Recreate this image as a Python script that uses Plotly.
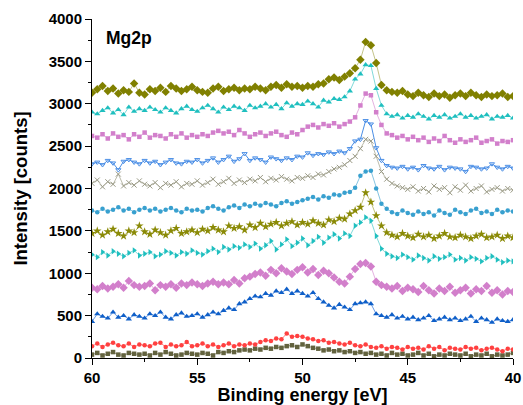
import numpy as np
import plotly.graph_objects as go

# Binding energy grid (eV), 60 -> 40 in 0.25 eV steps
energy = np.round(np.arange(60, 39.99, -0.25), 2)

s01_dark_sq = [40, 60, 30, 50, 70, 40, 30, 60, 50, 40,
               50, 30, 60, 40, 70, 50, 30, 40, 60, 50,
               40, 60, 50, 30, 70, 60, 80, 70, 90, 100,
               90, 110, 100, 120, 110, 130, 120, 140, 150, 130,
               160, 140, 120, 110, 90, 100, 80, 90, 70, 80,
               60, 70, 50, 60, 40, 50, 30, 60, 40, 50,
               30, 40, 60, 30, 50, 20, 40, 30, 50, 40,
               30, 50, 20, 40, 30, 50, 20, 40, 30, 40,
               60]
s02_red = [140, 170, 130, 160, 180, 150, 140, 170, 130, 160,
           150, 140, 170, 180, 130, 160, 140, 150, 190, 140,
           150, 170, 140, 160, 130, 150, 170, 140, 160, 150,
           170, 160, 190, 210, 200, 230, 220, 290, 250, 260,
           250, 230, 220, 200, 210, 180, 190, 170, 160, 180,
           150, 140, 160, 130, 120, 140, 110, 130, 120, 100,
           130, 110, 120, 100, 140, 110, 130, 90, 120, 110,
           100, 130, 110, 120, 90, 110, 120, 100, 80, 110,
           100]
s03_blue_tri = [430, 520, 490, 470, 540, 480, 500, 460, 510, 490,
                470, 520, 500, 540, 480, 460, 510, 530, 490, 500,
                520, 480, 510, 540, 520, 560, 590, 570, 640, 660,
                700, 730, 720, 760, 740, 790, 770, 810, 760, 790,
                760, 730, 770, 700, 660, 620, 590, 630, 600, 570,
                640, 650, 660, 640, 520, 500, 480, 510, 470, 490,
                460, 480, 450, 470, 500, 440, 460, 480, 450, 470,
                440, 460, 490, 430, 470, 450, 420, 460, 440, 430,
                450]
s04_orchid_dia = [830, 810, 850, 820, 840, 870, 830, 910, 860, 840,
                  850, 880, 800, 860, 840, 870, 830, 880, 860, 890,
                  870, 850, 880, 900, 870, 890, 870, 920, 880, 940,
                  960, 990, 1010, 970, 1040, 1000, 1060, 1020, 990, 1040,
                  1070, 1010, 1050, 980, 1030, 1000, 950, 900, 880, 960,
                  1050, 1110, 1120, 1080, 900, 860, 840, 820, 850, 790,
                  830, 810, 780, 850, 800, 760, 820, 790, 840, 770,
                  800, 830, 760, 810, 790, 850, 770, 800, 750, 790,
                  780]
s05_cyan_tri_r = [1220, 1190, 1250, 1210, 1260, 1230, 1200, 1240, 1270, 1210,
                  1230, 1250, 1200, 1220, 1260, 1240, 1210, 1250, 1230, 1270,
                  1240, 1220, 1260, 1290, 1250, 1310, 1280, 1320, 1300, 1340,
                  1310, 1350, 1290, 1330, 1380, 1280, 1340, 1400, 1320, 1360,
                  1410, 1330, 1380, 1430, 1360, 1420, 1460, 1410, 1470, 1440,
                  1560, 1600, 1660, 1620, 1440, 1290, 1230, 1200, 1180, 1220,
                  1190, 1160, 1210, 1180, 1150, 1200, 1170, 1190, 1220, 1160,
                  1180, 1150, 1190, 1170, 1140, 1180, 1200, 1160, 1130, 1150,
                  1140]
s06_olive_star = [1470, 1500, 1450, 1490, 1520, 1470, 1440, 1500, 1480, 1560,
                  1490, 1460, 1510, 1480, 1450, 1500, 1530, 1470, 1490, 1510,
                  1480, 1520, 1500, 1540, 1510, 1490, 1560, 1530, 1550, 1510,
                  1570, 1540, 1590, 1550, 1580, 1600, 1560, 1590, 1610, 1570,
                  1600, 1580, 1620, 1590, 1570, 1630, 1610, 1650, 1640, 1700,
                  1740, 1780, 1950, 1840, 1680, 1560, 1480, 1450, 1430, 1470,
                  1440, 1420, 1460, 1430, 1450, 1410, 1440, 1470, 1430, 1420,
                  1450, 1430, 1410, 1440, 1460, 1420, 1430, 1450, 1410, 1440,
                  1420]
s07_ltblue_circ = [1740, 1720, 1760, 1730, 1750, 1780, 1740, 1760, 1720, 1750,
                   1770, 1740, 1760, 1730, 1750, 1770, 1740, 1720, 1760, 1740,
                   1750, 1730, 1770, 1790, 1760, 1740, 1780, 1800, 1770, 1810,
                   1790, 1820, 1800, 1830, 1810, 1790, 1830, 1850, 1820, 1840,
                   1860, 1880, 1900, 1870, 1910, 1890, 1930, 1920, 1950, 1960,
                   2010, 2150, 2200, 2210, 2000, 1820, 1760, 1720, 1700, 1740,
                   1710, 1690, 1730, 1700, 1720, 1680, 1740, 1710, 1690, 1750,
                   1720, 1700, 1740, 1760, 1710, 1730, 1700, 1750, 1720, 1740,
                   1730]
s08_gray_x = [2060, 2100, 2020, 2080, 2050, 2170, 2030, 2070, 2040, 2090,
              2050, 2030, 2070, 2010, 2060, 2040, 2080, 2020, 2060, 2050,
              2090, 2040, 2070, 2110, 2050, 2080, 2120, 2060, 2100, 2070,
              2110, 2090, 2130, 2080, 2120, 2100, 2140, 2110, 2090, 2130,
              2120, 2150, 2130, 2170, 2160, 2200, 2230, 2250, 2280, 2330,
              2380, 2470, 2580, 2560, 2380, 2200, 2110, 2060, 2030, 2010,
              1990, 2020, 1970, 2000, 1960, 2030, 1990, 2010, 1950, 2020,
              1980, 2040, 1970, 2000, 2030, 1960, 1990, 2010, 1970, 2000,
              1980]
s09_blue_line = [2290, 2310, 2280, 2330, 2300, 2220, 2320, 2340, 2310, 2290,
                 2330, 2300, 2320, 2280, 2310, 2340, 2300, 2290, 2320, 2310,
                 2340, 2300, 2330, 2360, 2310, 2340, 2380, 2320, 2350, 2410,
                 2330, 2360, 2340, 2310, 2370, 2350, 2330, 2360, 2340, 2380,
                 2370, 2420, 2390, 2410, 2400, 2430, 2410, 2440, 2420, 2470,
                 2560, 2580, 2800, 2760, 2480, 2330, 2270, 2250, 2240, 2260,
                 2230, 2250, 2220, 2270, 2240, 2230, 2260, 2220, 2250, 2240,
                 2230, 2200, 2260, 2250, 2230, 2240, 2290, 2250, 2230, 2260,
                 2240]
s10_orchid_sq = [2620, 2600, 2640, 2590, 2650, 2610, 2630, 2580, 2640, 2610,
                 2660, 2600, 2630, 2620, 2590, 2640, 2610, 2650, 2600, 2630,
                 2610, 2640, 2620, 2660, 2680, 2650, 2670, 2630, 2690, 2650,
                 2610, 2640, 2660, 2620, 2650, 2670, 2630, 2610, 2660, 2640,
                 2690, 2730, 2750, 2720, 2760, 2740, 2770, 2730, 2760, 2790,
                 2840, 2980, 3120, 3100, 2900, 2750, 2650, 2630, 2600, 2620,
                 2580, 2610, 2570, 2600, 2550, 2590, 2560, 2620, 2570, 2540,
                 2580, 2550, 2570, 2600, 2540, 2560, 2580, 2530, 2560, 2550,
                 2570]
s11_cyan_tri = [2900, 2880, 2920, 2950, 2890, 2930, 2870, 2960, 2910, 2940,
                2920, 2960, 2930, 2900, 2950, 2920, 2890, 2940, 2970, 2930,
                2910, 2950, 2980, 2940, 2900, 2960, 2930, 2970, 2950, 2920,
                2980, 2950, 2970, 3000, 2960, 2990, 2940, 3010, 2970, 3000,
                2990, 3030, 3000, 2960, 3040, 3020, 3060, 3050, 3080, 3150,
                3290, 3350, 3460, 3450, 3180, 2980, 2880, 2850, 2870, 2830,
                2860, 2840, 2880, 2850, 2820, 2860, 2840, 2870, 2830, 2850,
                2880, 2840, 2860, 2830, 2850, 2870, 2820, 2850, 2840, 2860,
                2830]
s12_olive_dia = [3130, 3170, 3210, 3150, 3180, 3120, 3160, 3140, 3240, 3130,
                 3110, 3170, 3150, 3190, 3140, 3210, 3180, 3150, 3170, 3200,
                 3160, 3140, 3130, 3180, 3200, 3150, 3170, 3190, 3160, 3180,
                 3170, 3200, 3180, 3160, 3200, 3220, 3190, 3230, 3200, 3210,
                 3190, 3210, 3200, 3230, 3240, 3290, 3310, 3280, 3320, 3360,
                 3420, 3520, 3730, 3690, 3480, 3220, 3160, 3140, 3130, 3150,
                 3110, 3090, 3130, 3100, 3080, 3120, 3090, 3110, 3070, 3100,
                 3120, 3090, 3130, 3100, 3080, 3110, 3090, 3100, 3120, 3080,
                 3090]

x_title = "Binding energy [eV]"
y_title = "Intensity [counts]"
panel_label = "Mg2p"

series = [
    (s01_dark_sq, "square", "#62623e", "#9a9a80", 4.5, 0),
    (s02_red, "circle", "#ff4040", "#ff8080", 4.5, 0),
    (s03_blue_tri, "triangle-up", "#0f5fc8", "#6a9ce6", 5.5, 0),
    (s04_orchid_dia, "diamond", "#d27fcb", "#e4b2e0", 6.5, 0),
    (s05_cyan_tri_r, "triangle-right", "#1fbfbf", "#80dada", 5.5, 0),
    (s06_olive_star, "star", "#8a8a06", "#c2c27a", 6.5, 0),
    (s07_ltblue_circ, "circle", "#38a0cf", "#86c4e2", 4.5, 0),
    (s08_gray_x, "x-thin-open", "#9a9a86", "#bcbcac", 5, 1),
    (s09_blue_line, "triangle-down-open", "#4a8ee6", "#4a8ee6", 4.5, 1),
    (s10_orchid_sq, "square", "#d27fcb", "#e4b2e0", 4.5, 0),
    (s11_cyan_tri, "triangle-up", "#1fbfbf", "#80dada", 5.5, 0),
    (s12_olive_dia, "diamond", "#808000", "#c4c48a", 6.5, 0),
]

fig = go.Figure()
for vals, sym, mcol, lcol, msize, mlw in series:
    fig.add_trace(go.Scatter(
        x=energy, y=vals, mode="lines+markers",
        line=dict(color=lcol, width=1),
        marker=dict(symbol=sym, size=msize, color=mcol,
                    line=dict(width=mlw, color=mcol)),
        showlegend=False, hoverinfo="skip",
    ))

font_fam = "Liberation Sans, Arial, sans-serif"
fig.update_layout(
    width=523, height=405,
    margin=dict(l=92, r=10, t=19, b=47),
    paper_bgcolor="white", plot_bgcolor="white",
    font=dict(family=font_fam, color="black"),
    xaxis=dict(
        range=[60, 40], dtick=5, tick0=0, automargin=False,
        ticks="outside", ticklen=6, tickwidth=1, tickcolor="black",
        minor=dict(dtick=2.5, ticks="outside", ticklen=3, tickcolor="black"),
        showline=True, linecolor="black", linewidth=1,
        showgrid=False, zeroline=False,
        tickfont=dict(size=15, weight="bold"),
        title=dict(text=x_title, font=dict(size=18, weight="bold"), standoff=5),
    ),
    yaxis=dict(
        range=[0, 4000], dtick=500, automargin=False,
        ticks="outside", ticklen=6, tickwidth=1, tickcolor="black",
        minor=dict(dtick=250, ticks="outside", ticklen=3, tickcolor="black"),
        showline=True, linecolor="black", linewidth=1,
        showgrid=False, zeroline=False,
        tickfont=dict(size=15, weight="bold"),
        title=dict(text=y_title, font=dict(size=18.5, weight="bold"), standoff=16),
    ),
    xaxis2=dict(
        overlaying="x", side="top", anchor="y", range=[60, 40], automargin=False,
        tick0=0, dtick=4, ticks="inside", ticklen=5, tickcolor="#444",
        minor=dict(dtick=2, ticks="inside", ticklen=3, tickcolor="#444"),
        showticklabels=False, showline=True, linecolor="#555", linewidth=1,
        showgrid=False, zeroline=False,
    ),
    yaxis2=dict(
        overlaying="y", side="right", anchor="x", range=[-0.136, 9.707], automargin=False,
        tick0=0, dtick=2, ticks="inside", ticklen=6, tickcolor="#444",
        minor=dict(dtick=1, ticks="inside", ticklen=3, tickcolor="#444"),
        showticklabels=False, showline=True, linecolor="#555", linewidth=1,
        showgrid=False, zeroline=False,
    ),
    annotations=[dict(
        text=panel_label, xref="paper", yref="paper", x=0.029, y=0.9425,
        xanchor="left", yanchor="middle", showarrow=False,
        font=dict(size=17.5, weight="bold"),
    )],
)

fig.write_html("out.html")
